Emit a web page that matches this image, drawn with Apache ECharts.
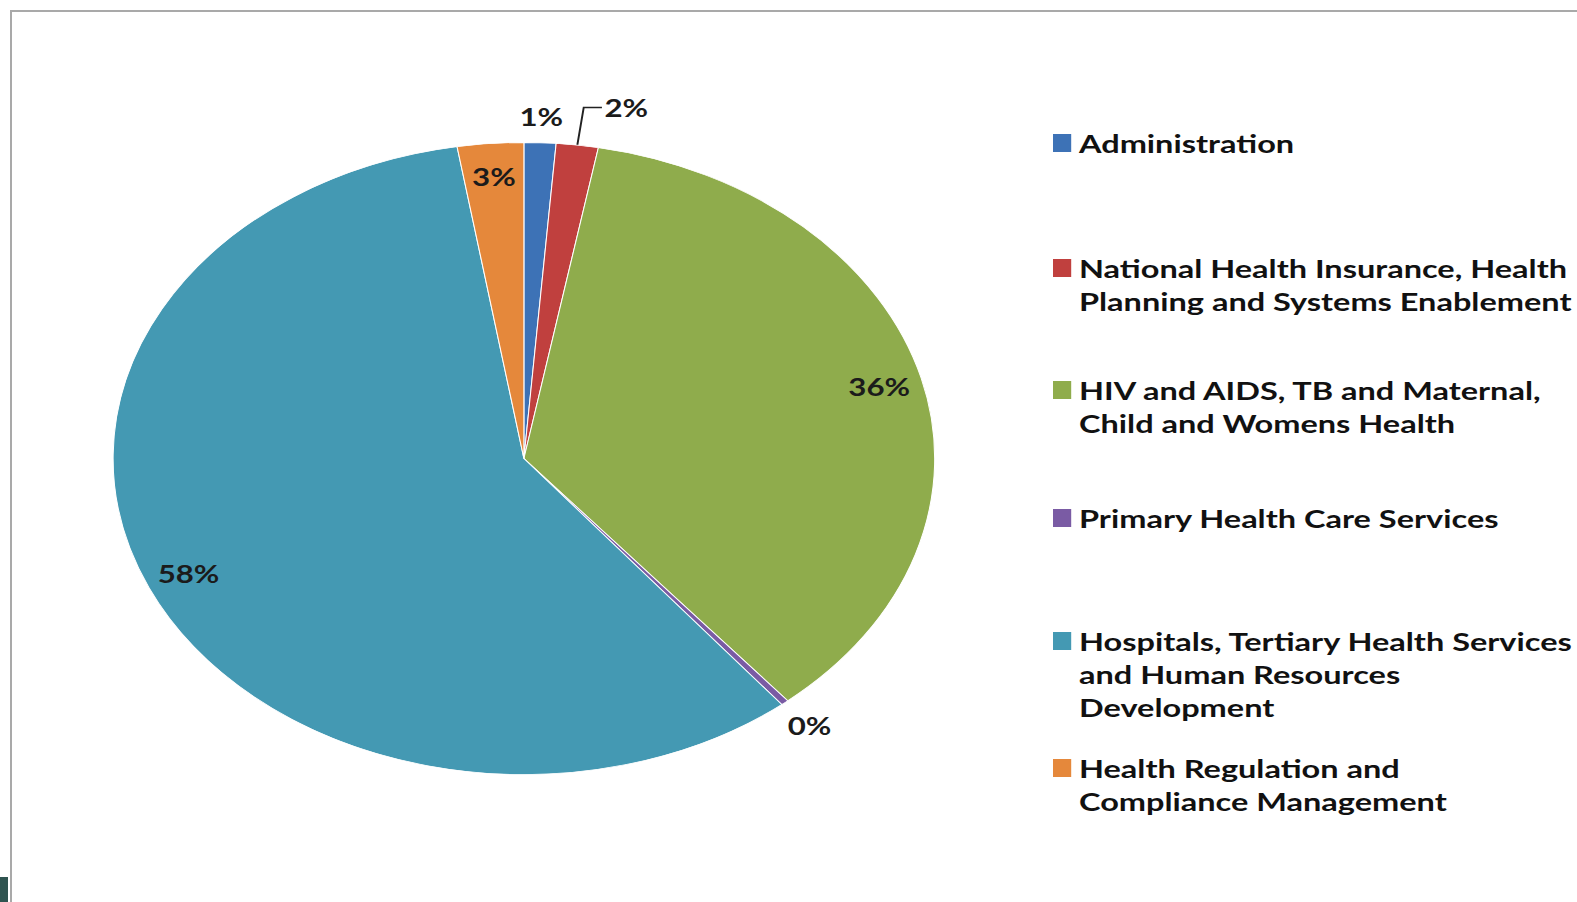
<!DOCTYPE html>
<html>
<head>
<meta charset="utf-8">
<script src="https://cdn.jsdelivr.net/npm/echarts@6/dist/echarts.min.js"></script>
<style>
  html, body { margin: 0; padding: 0; background: #fff; width: 1577px; height: 902px; overflow: hidden; }
  #frame { position: absolute; left: 10px; top: 10px; width: 1580px; height: 900px; border-left: 2px solid #a9a9a9; border-top: 2px solid #a9a9a9; }
  #corner { position: absolute; left: 0; top: 877px; width: 8px; height: 25px; background: #2f5450; }
  #chart { position: absolute; left: 0; top: 0; width: 1213px; height: 902px; transform: scaleX(1.3); transform-origin: 0 0; }
</style>
</head>
<body>
<div id="frame"></div>
<div id="corner"></div>
<div id="chart"></div>
<script>
// ---- data ----
const categories = [
  'Administration',
  'National Health Insurance, Health\nPlanning and Systems Enablement',
  'HIV and AIDS, TB and Maternal,\nChild and Womens Health',
  'Primary Health Care Services',
  'Hospitals, Tertiary Health Services\nand Human Resources\nDevelopment',
  'Health Regulation and\nCompliance Management'
];
const shares = [1.25, 1.65, 36.0, 0.3, 58.2, 2.6];
const colors = ['#3d72b6', '#c0403e', '#8fac4c', '#7a5ba4', '#4499b3', '#e5883b'];
// which label style each slice uses in the reference
const labelKind = ['near', 'leader', 'inner', 'outer', 'inner', 'inner'];
// first-line centre (y, px) of each legend entry
const legendLineY = [143, 268, 390, 518, 641, 768];

const FONT = 'Lato, "Open Sans", sans-serif';
const LINE = 33;
const CX = 403, CY = 458.5, R = 316;

const fmt = p => Math.round(p.percent) + '%';
const labelStyle = { color: '#1b1b1b', fontFamily: FONT, fontSize: 24, fontWeight: 'bold' };

function ringData(kind) {
  return categories.map((n, i) => ({
    name: n, value: shares[i],
    itemStyle: { color: 'rgba(0,0,0,0)', borderWidth: 0 },
    label: { show: labelKind[i] === kind }
  }));
}

function labelRing(kind, radius) {
  return {
    type: 'pie',
    center: [CX, CY],
    radius: radius,
    startAngle: 90,
    clockwise: true,
    avoidLabelOverlap: false,
    silent: true,
    data: ringData(kind),
    label: Object.assign({ position: 'inside', formatter: fmt }, labelStyle),
    labelLine: { show: false }
  };
}

const legends = categories.map((n, i) => {
  const lines = n.split('\n').length;
  return {
    orient: 'vertical',
    left: 808,
    top: legendLineY[i] - (lines - 1) * LINE - LINE / 2,
    padding: 0,
    itemWidth: 16,
    itemHeight: 20,
    itemGap: 0,
    icon: 'rect',
    selectedMode: false,
    data: [n],
    formatter: name => '\n'.repeat(name.split('\n').length - 1) + name,
    textStyle: { color: '#111', fontFamily: FONT, fontSize: 25, fontWeight: 'bold', lineHeight: LINE }
  };
});

const chart = echarts.init(document.getElementById('chart'), null, { renderer: 'svg' });
chart.setOption({
  animation: false,
  backgroundColor: 'transparent',
  legend: legends,
  series: [
    {
      type: 'pie',
      center: [CX, CY],
      radius: [0, R],
      startAngle: 90,
      clockwise: true,
      avoidLabelOverlap: false,
      silent: true,
      data: categories.map((n, i) => ({
        name: n, value: shares[i], itemStyle: { color: colors[i] },
        label: { show: labelKind[i] === 'leader' },
        labelLine: { show: labelKind[i] === 'leader' }
      })),
      itemStyle: { borderColor: '#ffffff', borderWidth: 0.8 },
      label: Object.assign({ position: 'outside', formatter: fmt, distanceToLabelLine: 2 }, labelStyle),
      labelLine: { length: 38, length2: 14, lineStyle: { color: '#222', width: 1.5 } }
    },
    labelRing('inner', [R * 0.77, R]),
    labelRing('outer', [R, R + 54]),
    labelRing('near', [R, R + 46])
  ]
});
</script>
</body>
</html>
